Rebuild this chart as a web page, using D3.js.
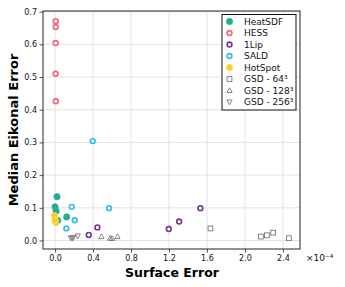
<!DOCTYPE html>
<html>
<head>
<meta charset="utf-8">
<script src="https://cdn.jsdelivr.net/npm/d3@7"></script>
<style>
body { margin: 0; background: #fff; }
text { font-family: "DejaVu Sans", sans-serif; }
</style>
</head>
<body>
<script>
var w = 345;
var h = 287;

// surface error (x 1e-4), median eikonal error
var heatX = [0.021, 0.0, 0.011, 0.028, 0.123];
var heatY = [0.134, 0.103, 0.090, 0.061, 0.072];
var hessX = [0.007, 0.007, 0.006, 0.006, 0.008];
var hessY = [0.671, 0.653, 0.604, 0.510, 0.426];
var lipX = [0.355, 0.446, 1.198, 1.307, 1.531];
var lipY = [0.017, 0.040, 0.035, 0.058, 0.099];
var saldX = [0.397, 0.176, 0.569, 0.207, 0.119];
var saldY = [0.304, 0.103, 0.099, 0.062, 0.037];
var hotX = [-0.007, 0.007, 0.0];
var hotY = [0.076, 0.055, 0.062];
var g64X = [1.637, 2.168, 2.231, 2.297, 2.462];
var g64Y = [0.037, 0.012, 0.016, 0.024, 0.007];
var g128X = [0.488, 0.580, 0.600, 0.657];
var g128Y = [0.012, 0.007, 0.006, 0.012];
var g256X = [0.165, 0.180, 0.192, 0.239];
var g256Y = [0.008, 0.007, 0.009, 0.014];

var xTicks = [0.0, 0.4, 0.8, 1.2, 1.6, 2.0, 2.4];
var yTicks = [0.0, 0.1, 0.2, 0.3, 0.4, 0.5, 0.6, 0.7];

var series = [
  {name: "HeatSDF", xs: heatX, ys: heatY, shape: "dot", color: "#2aa58e"},
  {name: "HESS", xs: hessX, ys: hessY, shape: "ring", color: "#ee6677"},
  {name: "1Lip", xs: lipX, ys: lipY, shape: "ring", color: "#70378a"},
  {name: "SALD", xs: saldX, ys: saldY, shape: "ring", color: "#33bbee"},
  {name: "HotSpot", xs: hotX, ys: hotY, shape: "dot", color: "#f7c83a"},
  {name: "GSD - 64³", xs: g64X, ys: g64Y, shape: "square", color: "#777"},
  {name: "GSD - 128³", xs: g128X, ys: g128Y, shape: "tri", color: "#777"},
  {name: "GSD - 256³", xs: g256X, ys: g256Y, shape: "tridown", color: "#777"}
];

var pl = 43, pr = 300, pt = 11, pb = 249;

var x = d3.scaleLinear().domain([-0.127, 2.58]).range([pl, pr]);
var y = d3.scaleLinear().domain([-0.026, 0.702]).range([pb, pt]);

var svg = d3.select("body")
            .append("svg")
            .attr("width", w)
            .attr("height", h);

//grid
svg.selectAll("line.gx")
   .data(xTicks)
   .enter()
   .append("line")
   .attr("x1", function(d) { return x(d); })
   .attr("x2", function(d) { return x(d); })
   .attr("y1", pt)
   .attr("y2", pb)
   .style("stroke", "#dcdcdc")
   .style("stroke-width", 0.8);

svg.selectAll("line.gy")
   .data(yTicks)
   .enter()
   .append("line")
   .attr("y1", function(d) { return y(d); })
   .attr("y2", function(d) { return y(d); })
   .attr("x1", pl)
   .attr("x2", pr)
   .style("stroke", "#dcdcdc")
   .style("stroke-width", 0.8);

//axes
var xAxis = svg.append("g")
   .attr("transform", "translate(0," + pb + ")")
   .call(d3.axisBottom(x).tickValues(xTicks).tickFormat(d3.format(".1f")).tickSizeOuter(0).tickSize(3.5).tickPadding(2.5));
var yAxis = svg.append("g")
   .attr("transform", "translate(" + pl + ",0)")
   .call(d3.axisLeft(y).tickValues(yTicks).tickFormat(d3.format(".1f")).tickSizeOuter(0).tickSize(3.5).tickPadding(2.5));

[xAxis, yAxis].forEach(function(a) {
  a.select(".domain").remove();
  a.selectAll("text").style("font-size", "8px").style("fill", "#111").style("font-family", "DejaVu Sans");
  a.selectAll("line").style("stroke", "#222").style("stroke-width", 0.8);
});

//frame
svg.append("rect")
   .attr("x", pl)
   .attr("y", pt)
   .attr("width", pr - pl)
   .attr("height", pb - pt)
   .style("fill", "none")
   .style("stroke", "#222")
   .style("stroke-width", 1);

function drawMarker(g, shape, color, cx, cy) {
  if (shape == "dot") {
    g.append("circle").attr("cx", cx).attr("cy", cy).attr("r", 3.2)
     .style("fill", color).style("stroke", d3.color(color).brighter(0.4)).style("stroke-width", 0.8);
  } else if (shape == "ring") {
    g.append("circle").attr("cx", cx).attr("cy", cy).attr("r", 2.4)
     .style("fill", "#fff").style("stroke", color).style("stroke-width", 1.6);
  } else if (shape == "square") {
    g.append("rect").attr("x", cx - 2.4).attr("y", cy - 2.4).attr("width", 4.8).attr("height", 4.8)
     .style("fill", "none").style("stroke", color).style("stroke-width", 0.9);
  } else {
    var s = shape == "tri" ? 1 : -1;
    var pts = [[cx, cy - 2.8 * s], [cx - 2.6, cy + 2 * s], [cx + 2.6, cy + 2 * s]];
    g.append("path").attr("d", "M" + pts.join("L") + "Z")
     .style("fill", "none").style("stroke", color).style("stroke-width", 0.9);
  }
}

//points
var marks = svg.append("g");
series.forEach(function(s) {
  s.xs.forEach(function(v, i) {
    drawMarker(marks, s.shape, s.color, x(v), y(s.ys[i]));
  });
});

//legend
var lg = svg.append("g");
lg.append("rect")
  .attr("x", 222)
  .attr("y", 14.5)
  .attr("width", 74)
  .attr("height", 95.5)
  .style("fill", "#fff")
  .style("stroke", "#111")
  .style("stroke-width", 1);
series.forEach(function(s, i) {
  var yy = 21.5 + i * 11.5;
  drawMarker(lg, s.shape, s.color, 229.5, yy);
  lg.append("text")
    .attr("x", 244)
    .attr("y", yy + 3.2)
    .style("font-size", "9px")
    .style("fill", "#111")
    .text(s.name);
});

//labels
svg.append("text")
   .attr("x", 172)
   .attr("y", 277)
   .attr("text-anchor", "middle")
   .style("font-size", "12.5px")
   .style("font-weight", "bold")
   .text("Surface Error");

svg.append("text")
   .attr("transform", "translate(18," + ((pt + pb) / 2) + ") rotate(-90)")
   .attr("text-anchor", "middle")
   .style("font-size", "13px")
   .style("font-weight", "bold")
   .text("Median Eikonal Error");

svg.append("text")
   .attr("x", 306)
   .attr("y", 261)
   .style("font-size", "9px")
   .style("fill", "#111")
   .text("×10⁻⁴");
</script>
</body>
</html>
